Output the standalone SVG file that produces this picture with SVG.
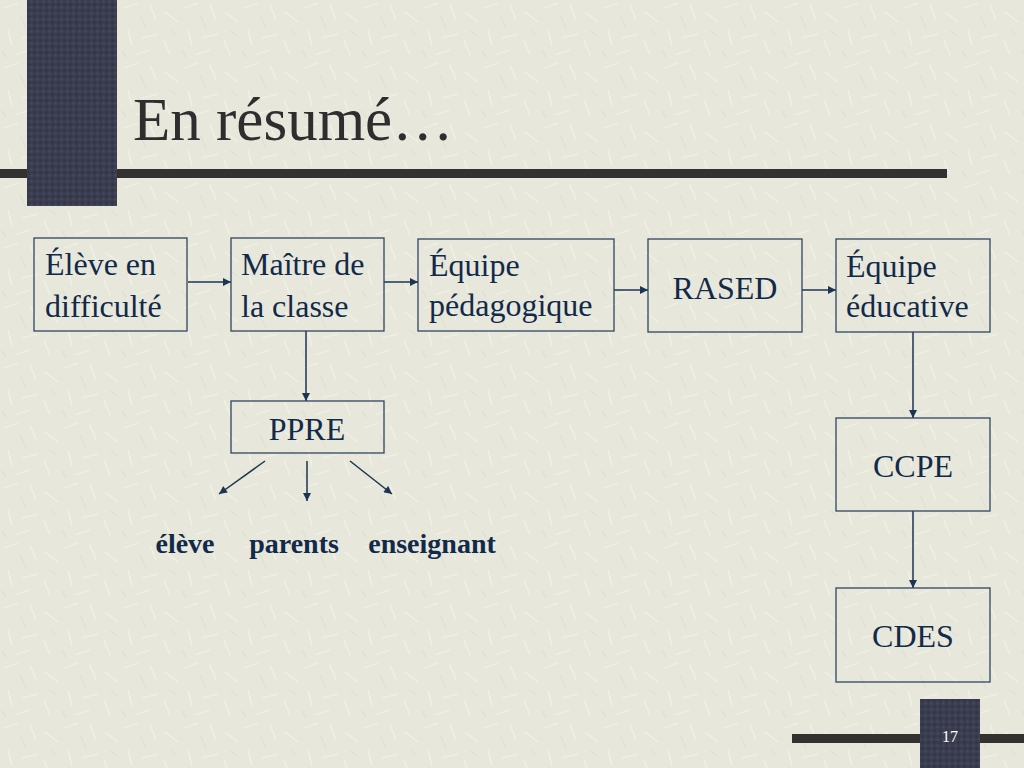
<svg xmlns="http://www.w3.org/2000/svg" width="1024" height="768" viewBox="0 0 1024 768">
<defs>
<style>
.box{fill:none;stroke:#2f4560;stroke-width:1.3}
.t{font-family:"Liberation Serif","Times New Roman",serif;font-size:32px;fill:#122a4a}
.b{font-family:"Liberation Serif","Times New Roman",serif;font-size:28px;font-weight:bold;fill:#122a4a}
.c{stroke:#1d3453;stroke-width:1.5;fill:none;marker-end:url(#ah)}
</style>
<marker id="ah" viewBox="0 0 10 10" refX="10" refY="5" markerWidth="9" markerHeight="8" markerUnits="userSpaceOnUse" orient="auto">
<path d="M0,0 L10,5 L0,10 z" fill="#1d3453"/>
</marker>
<pattern id="tex" width="60" height="60" patternUnits="userSpaceOnUse">
<rect width="60" height="60" fill="#e8e7db"/>
<g stroke="#f4f3ea" stroke-width="1.2" opacity="0.8">
<line x1="4" y1="8" x2="18" y2="3"/>
<line x1="30" y1="5" x2="36" y2="20"/>
<line x1="45" y1="12" x2="58" y2="22"/>
<line x1="8" y1="30" x2="12" y2="46"/>
<line x1="22" y1="38" x2="38" y2="34"/>
<line x1="44" y1="40" x2="50" y2="55"/>
<line x1="15" y1="55" x2="30" y2="50"/>
</g>
<g stroke="#d9d8cb" stroke-width="1" opacity="0.7">
<line x1="20" y1="15" x2="26" y2="28"/>
<line x1="50" y1="30" x2="57" y2="36"/>
<line x1="2" y1="50" x2="6" y2="58"/>
</g>
</pattern>
<pattern id="dark" width="6" height="6" patternUnits="userSpaceOnUse">
<rect width="6" height="6" fill="#3a3c4f"/>
<circle cx="1.5" cy="1.5" r="1" fill="#4a4d63"/>
<circle cx="4.5" cy="4.5" r="1" fill="#2e3040"/>
</pattern>
</defs>
<rect width="1024" height="768" fill="url(#tex)"/>
<g id="decor">
<rect x="0" y="169" width="947" height="9" fill="#343230"/>
<rect x="27" y="0" width="90" height="206" fill="url(#dark)"/>
<rect x="792" y="734" width="232" height="9" fill="#343230"/>
<rect x="920" y="699" width="60" height="69" fill="url(#dark)"/>
<text x="950" y="742" text-anchor="middle" font-family="Liberation Serif, serif" font-size="16" fill="#ffffff">17</text>
</g>
<text id="title" x="133" y="140" font-family="Liberation Serif, 'Times New Roman', serif" font-size="61" fill="#2e2e2e">En résumé…</text>
<g id="connectors">
<line class="c" x1="188" y1="282" x2="231" y2="282"/>
<line class="c" x1="384" y1="282" x2="418" y2="282"/>
<line class="c" x1="614" y1="290" x2="648" y2="290"/>
<line class="c" x1="802" y1="290" x2="836" y2="290"/>
<line class="c" x1="306" y1="331" x2="306" y2="401"/>
<line class="c" x1="913" y1="332" x2="913" y2="418"/>
<line class="c" x1="913" y1="511" x2="913" y2="588"/>
<line class="c" x1="265" y1="461" x2="219" y2="494"/>
<line class="c" x1="307" y1="461" x2="307" y2="501"/>
<line class="c" x1="350" y1="461" x2="392" y2="494"/>
</g>
<g id="n1"><rect class="box" x="34" y="238" width="153" height="93"/><text class="t" x="45" y="275">Élève en</text><text class="t" x="45" y="317">difficulté</text></g>
<g id="n2"><rect class="box" x="231" y="238" width="153" height="93"/><text class="t" x="241" y="275">Maître de</text><text class="t" x="241" y="317">la classe</text></g>
<g id="n3"><rect class="box" x="418" y="239" width="196" height="92"/><text class="t" x="429" y="276">Équipe</text><text class="t" x="429" y="316">pédagogique</text></g>
<g id="n4"><rect class="box" x="648" y="239" width="154" height="93"/><text class="t" x="725" y="299" text-anchor="middle">RASED</text></g>
<g id="n5"><rect class="box" x="836" y="239" width="154" height="93"/><text class="t" x="846" y="277">Équipe</text><text class="t" x="846" y="317">éducative</text></g>
<g id="n6"><rect class="box" x="231" y="401" width="153" height="52"/><text class="t" x="307" y="440" text-anchor="middle">PPRE</text></g>
<g id="n7"><rect class="box" x="836" y="418" width="154" height="93"/><text class="t" x="913" y="477" text-anchor="middle">CCPE</text></g>
<g id="n8"><rect class="box" x="836" y="588" width="154" height="94"/><text class="t" x="913" y="647" text-anchor="middle">CDES</text></g>
<g id="labels">
<text class="b" x="185" y="553" text-anchor="middle">élève</text>
<text class="b" x="294" y="553" text-anchor="middle">parents</text>
<text class="b" x="432" y="553" text-anchor="middle">enseignant</text>
</g>
</svg>
